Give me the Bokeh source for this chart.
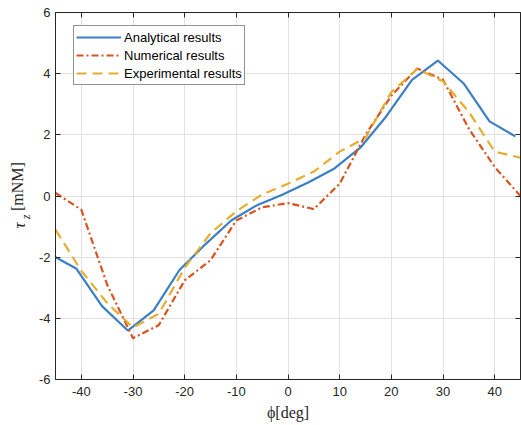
import math
from bokeh.plotting import figure
from bokeh.layouts import row
from bokeh.models import (ColumnDataSource, FixedTicker, LinearAxis, Range1d,
                          Legend, LegendItem, Label, CustomJSTickFormatter)
from bokeh.embed import file_html
from bokeh.resources import INLINE

# ---- data ----
phi_analytical = [-45, -41, -36, -31, -26, -21, -16, -11, -6, -1, 4, 9, 14, 19, 24, 29, 34, 39, 44]
tau_analytical = [-2.0, -2.37, -3.6, -4.4, -3.74, -2.42, -1.58, -0.8, -0.3, 0.05, 0.45, 0.9, 1.58, 2.6, 3.8, 4.43, 3.68, 2.44, 1.95]

phi_numerical = [-45, -40, -35, -30, -25, -20, -15, -10, -5, 0, 5, 10, 15, 20, 25, 30, 35, 40, 45]
tau_numerical = [0.1, -0.45, -2.9, -4.65, -4.22, -2.76, -2.1, -0.8, -0.37, -0.23, -0.43, 0.4, 2.0, 3.28, 4.17, 3.8, 2.2, 0.95, 0.0]

phi_experimental = [-45, -40, -35, -30, -25, -20, -15, -10, -5, 0, 5, 10, 15, 20, 25, 30, 35, 40, 45]
tau_experimental = [-1.1, -2.45, -3.5, -4.3, -3.85, -2.35, -1.22, -0.5, 0.05, 0.4, 0.8, 1.45, 1.9, 3.4, 4.15, 3.75, 2.75, 1.45, 1.25]

series_labels = ["Analytical results", "Numerical results", "Experimental results"]
x_ticks = [-40, -30, -20, -10, 0, 10, 20, 30, 40]
x_tick_labels = ["-40", "-30", "-20", "-10", "0", "10", "20", "30", "40"]
y_ticks = [-6, -4, -2, 0, 2, 4, 6]
y_tick_labels = ["-6", "-4", "-2", "0", "2", "4", "6"]
x_title = "ϕ[deg]"
y_title_symbol, y_title_sub, y_title_unit = "τ", "z", "[mNM]"

# ---- styling ----
BLUE = "#3b7fc4"
RED = "#d9531e"
YELLOW = "#e6ad2f"
AXC = "#262626"
GRID = "#e2e2e2"
SANS = "Liberation Sans"
SERIF = "Liberation Serif"
W, H = 521, 425
LEFT_W = 32
TOP, BOTTOM = 12, 46

y_range = Range1d(-6, 6)

# ---- narrow strip holding the rotated y-axis title (with subscript) ----
ylab = figure(width=LEFT_W, height=H, output_backend="svg", toolbar_location=None,
              x_range=Range1d(0, LEFT_W), y_range=y_range,
              x_axis_location=None, y_axis_location=None,
              min_border_left=0, min_border_right=0, min_border_top=TOP, min_border_bottom=BOTTOM,
              background_fill_color="white", border_fill_color="white")
ylab.outline_line_color = None
ylab.grid.visible = False
ylab.add_layout(Label(x=18.5, y=-0.96, text=y_title_symbol, angle=math.pi / 2,
                      text_align="center", text_baseline="middle", text_font=SERIF,
                      text_font_style="italic", text_font_size="17px", text_color=AXC))
ylab.add_layout(Label(x=25.5, y=-0.68, text=y_title_sub, angle=math.pi / 2,
                      text_align="center", text_baseline="middle", text_font=SERIF,
                      text_font_style="italic", text_font_size="12px", text_color=AXC))
ylab.add_layout(Label(x=17, y=0.31, text=y_title_unit, angle=math.pi / 2,
                      text_align="center", text_baseline="middle", text_font=SERIF,
                      text_font_size="16px", text_color=AXC))

# ---- main chart ----
p = figure(width=W - LEFT_W, height=H, output_backend="svg", toolbar_location=None,
           x_range=Range1d(-45, 45), y_range=y_range,
           min_border_left=55 - LEFT_W, min_border_right=1, min_border_top=TOP, min_border_bottom=BOTTOM,
           background_fill_color="white", border_fill_color="white")
p.outline_line_color = AXC
p.outline_line_width = 1

# top and right axes (ticks only, like a boxed MATLAB axes)
blank = CustomJSTickFormatter(code="return ''")
p.add_layout(LinearAxis(formatter=blank), "above")
p.add_layout(LinearAxis(formatter=blank), "right")

for ax in p.xaxis:
    ax.ticker = FixedTicker(ticks=x_ticks)
for ax in p.yaxis:
    ax.ticker = FixedTicker(ticks=y_ticks)

for ax in list(p.xaxis) + list(p.yaxis):
    ax.major_tick_in = 5
    ax.major_tick_out = 0
    ax.minor_tick_in = 0
    ax.minor_tick_out = 0
    ax.axis_line_color = AXC
    ax.major_tick_line_color = AXC
    ax.major_label_text_font = SANS
    ax.major_label_text_font_size = "13px"
    ax.major_label_text_color = AXC

for ax in (p.above[0], p.right[0]):
    ax.major_label_text_font_size = "0px"
    ax.major_label_standoff = 0

ly = p.left[0]
ly.major_label_standoff = 5
ly.major_label_overrides = {t: s for t, s in zip(y_ticks, y_tick_labels)}

bx = p.below[0]
bx.major_label_standoff = 7
bx.major_label_overrides = {t: s for t, s in zip(x_ticks, x_tick_labels)}
bx.axis_label = x_title
bx.axis_label_text_font = SERIF
bx.axis_label_text_font_style = "normal"
bx.axis_label_text_font_size = "16px"
bx.axis_label_text_color = AXC
bx.axis_label_standoff = 5

p.xgrid.grid_line_color = GRID
p.ygrid.grid_line_color = GRID
p.xgrid.ticker = FixedTicker(ticks=x_ticks)
p.ygrid.ticker = FixedTicker(ticks=y_ticks)

src_a = ColumnDataSource(dict(x=phi_analytical, y=tau_analytical))
src_n = ColumnDataSource(dict(x=phi_numerical, y=tau_numerical))
src_e = ColumnDataSource(dict(x=phi_experimental, y=tau_experimental))

r_a = p.line("x", "y", source=src_a, line_color=BLUE, line_width=2.2)
r_n = p.line("x", "y", source=src_n, line_color=RED, line_width=2.2, line_dash="7 3 2 3")
r_e = p.line("x", "y", source=src_e, line_color=YELLOW, line_width=2.2, line_dash="10 6")

legend = Legend(items=[LegendItem(label=series_labels[0], renderers=[r_a]),
                       LegendItem(label=series_labels[1], renderers=[r_n]),
                       LegendItem(label=series_labels[2], renderers=[r_e])],
                location=(18, 294), glyph_width=45, glyph_height=18, label_height=18,
                label_text_font=SANS, label_text_font_size="13px", label_text_color="black",
                label_standoff=3, padding=2, spacing=0, margin=0,
                border_line_color=AXC, border_line_width=1, background_fill_color="white",
                background_fill_alpha=1)
p.add_layout(legend)

layout = row(ylab, p, spacing=0)
open("out.html", "w").write(file_html(layout, INLINE))
